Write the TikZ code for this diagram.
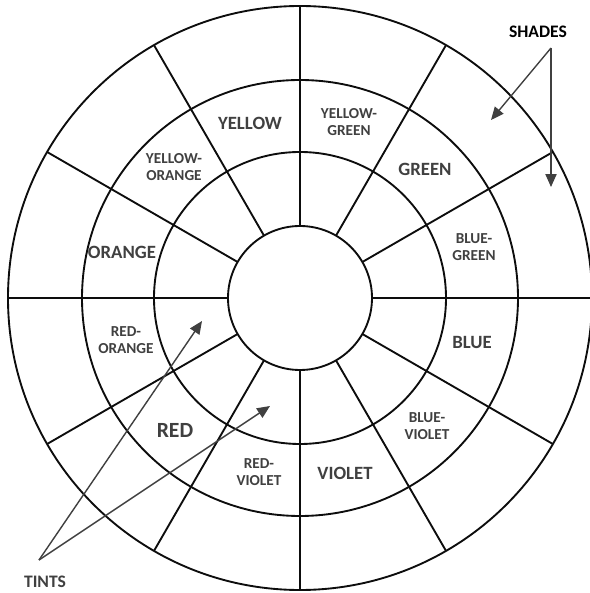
\documentclass[tikz,border=0pt]{standalone}
\usepackage{fontspec}
\setmainfont{Carlito}
\usetikzlibrary{arrows.meta}
\definecolor{wheelline}{gray}{0.05}
\definecolor{hue}{gray}{0.25}
\definecolor{pointer}{gray}{0.25}
\tikzset{
  big/.style={font=\fontsize{16}{18}\selectfont\bfseries,text=hue,align=center},
  small/.style={font=\fontsize{13}{15}\selectfont\bfseries,text=hue,align=center},
  tag/.style={font=\fontsize{15}{17}\selectfont\bfseries,align=center},
  ptr/.style={draw=pointer,line width=1.2pt,-{Triangle[length=11pt,width=9.5pt]}},
}
\begin{document}
\begin{tikzpicture}[x=0.03cm,y=0.03cm]
  \useasboundingbox[fill=white] (-300,-295) rectangle (289,298);
  % rings
  \draw[wheelline,line width=1.6pt] (0,0) circle (72);
  \draw[wheelline,line width=1.6pt] (0,0) circle (146);
  \draw[wheelline,line width=1.6pt] (0,0) circle (218);
  \draw[wheelline,line width=1.6pt] (0,0) circle (292);
  % spokes
  \draw[wheelline,line width=1.6pt] (0:72) -- (0:292);
  \draw[wheelline,line width=1.6pt] (30:72) -- (30:292);
  \draw[wheelline,line width=1.6pt] (60:72) -- (60:292);
  \draw[wheelline,line width=1.6pt] (90:72) -- (90:292);
  \draw[wheelline,line width=1.6pt] (120:72) -- (120:292);
  \draw[wheelline,line width=1.6pt] (150:72) -- (150:292);
  \draw[wheelline,line width=1.6pt] (180:72) -- (180:292);
  \draw[wheelline,line width=1.6pt] (210:72) -- (210:292);
  \draw[wheelline,line width=1.6pt] (240:72) -- (240:292);
  \draw[wheelline,line width=1.6pt] (270:72) -- (270:292);
  \draw[wheelline,line width=1.6pt] (300:72) -- (300:292);
  \draw[wheelline,line width=1.6pt] (330:72) -- (330:292);
  % hue names
  \node[big] (yellow) at (-50,175) {YELLOW};
  \node[small] (yelgreen) at (49,176) {YELLOW-\\GREEN};
  \node[big] (green) at (125,129) {GREEN};
  \node[small] (bluegreen) at (174,51) {BLUE-\\GREEN};
  \node[big] (blue) at (172,-44) {BLUE};
  \node[small] (blueviolet) at (127,-128) {BLUE-\\VIOLET};
  \node[big] (violet) at (45,-175) {VIOLET};
  \node[small] (redviolet) at (-41,-174) {RED-\\VIOLET};
  \node[big,font=\fontsize{18.5}{20}\selectfont\bfseries] (red) at (-125,-132) {RED};
  \node[small] (redorange) at (-174,-42) {RED-\\ORANGE};
  \node[big] (orange) at (-178,46) {ORANGE};
  \node[small] (yelorange) at (-126,131) {YELLOW-\\ORANGE};
  % pointers
  \node[tag,text=black] (shades) at (238,266) {SHADES};
  \node[tag,text=hue] (tints) at (-255,-284) {TINTS};
  \coordinate (shadesfrom) at (251,250);
  \coordinate (shadesA) at (191,178);
  \coordinate (shadesB) at (251,111);
  \coordinate (tintsfrom) at (-261,-262);
  \coordinate (tintsA) at (-98,-23);
  \coordinate (tintsB) at (-30,-108);
  \draw[ptr] (shadesfrom) -- (shadesA);
  \draw[ptr] (shadesfrom) -- (shadesB);
  \draw[ptr] (tintsfrom) -- (tintsA);
  \draw[ptr] (tintsfrom) -- (tintsB);
\end{tikzpicture}
\end{document}
